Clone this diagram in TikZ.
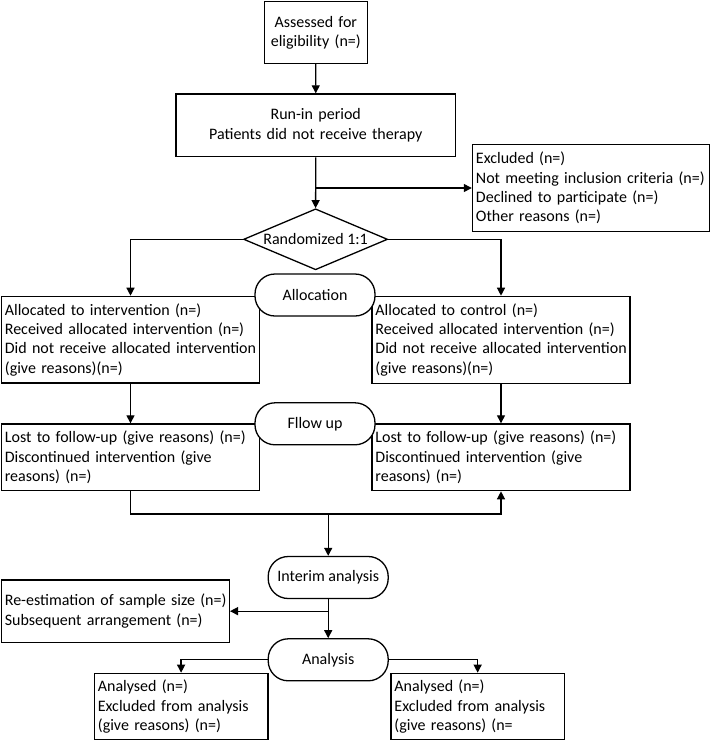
\documentclass[tikz,border=0pt]{standalone}
\usepackage{fontspec}
\setmainfont{Carlito}
\usetikzlibrary{arrows.meta, shapes.geometric, positioning}

\begin{document}
\begin{tikzpicture}[x=1pt, y=-1pt, line width=1.3pt,
        font=\fontsize{16}{19.3}\selectfont,
        box/.style={draw, anchor=north west, inner xsep=3.5pt, inner ysep=0pt},
        pill/.style={draw, fill=white, rounded corners=20pt, minimum width=120pt, minimum height=42pt, inner sep=0pt},
        arr/.style={-{Triangle[length=8pt, width=8pt]}}]
            \useasboundingbox (0,0) rectangle (710,740);
            \node[box, align=center, text width=96.3pt, minimum height=61.7pt] (as) at (263.5,1) {Assessed for\\eligibility (n=)};
            \node[box, align=center, text width=272.8pt, minimum height=62.7pt] (ri) at (175.2,93.3) {Run-in period\\Patients did not receive therapy};
            \node[box, align=left, text width=230.2pt, minimum height=86.7pt] (ex) at (471.8,144) {Excluded (n=)\\\mbox{Not meeting inclusion criteria (n=)}\\Declined to participate (n=)\\Other reasons (n=)};
            \node[draw, diamond, aspect=2.36, minimum width=144pt, minimum height=61pt, inner sep=0pt] (rd) at (315.6,239.3) {Randomized 1:1};
            \node[box, align=left, text width=251.3pt, minimum height=86.6pt] (i1) at (0.7,295.7) {\mbox{Allocated to intervention (n=)}\\\mbox{Received allocated intervention (n=)}\\\mbox{Did not receive allocated intervention}\\(give reasons)(n=)};
            \node[box, align=left, text width=251.1pt, minimum height=87pt] (c1) at (371.3,295.7) {Allocated to control (n=)\\\mbox{Received allocated intervention (n=)}\\\mbox{Did not receive allocated intervention}\\(give reasons)(n=)};
            \node[box, align=left, text width=251.3pt, minimum height=66.7pt] (i2) at (0.7,423.3) {\mbox{Lost to follow-up (give reasons) (n=)}\\\mbox{Discontinued intervention (give}\\reasons) (n=)};
            \node[box, align=left, text width=251.1pt, minimum height=66.7pt] (c2) at (371.3,423.3) {\mbox{Lost to follow-up (give reasons) (n=)}\\\mbox{Discontinued intervention (give}\\reasons) (n=)};
            \node[box, align=left, text width=221pt, minimum height=62.4pt] (rs) at (0.7,579.3) {\mbox{Re-estimation of sample size (n=)}\\\mbox{Subsequent arrangement (n=)}};
            \node[box, align=left, text width=166.5pt, minimum height=66.6pt] (a1) at (93.7,672.7) {Analysed (n=)\\\mbox{Excluded from analysis}\\\mbox{(give reasons) (n=)}};
            \node[box, align=left, text width=166.4pt, minimum height=66.6pt] (a2) at (390.3,672.7) {Analysed (n=)\\\mbox{Excluded from analysis}\\\mbox{(give reasons) (n=}};
            \node[pill] (al) at (315,295) {Allocation};
            \node[pill] (fu) at (315,423.8) {Fllow up};
            \node[pill] (im) at (328.2,577.5) {Interim analysis};
            \node[pill, below=39pt of im] (an) {Analysis};
            \coordinate (jn) at (328.2,514);
            \draw[arr] (as.south) -- (ri.north);
            \draw[arr] (ri.south) -- (rd.north);
            \draw[arr] (ri.south |- ex.west) -- (ex.west);
            \draw[arr] (rd.west) -| (i1.north);
            \draw[arr] (rd.east) -| (c1.north);
            \draw[arr] (i1.south) -- (i2.north);
            \draw[arr] (c1.south) -- (c2.north);
            \draw[arr] (i2.south) |- (jn) -| (c2.south);
            \draw[arr] (jn) -- (im.north);
            \draw[arr] (im.south) -- (an.north);
            \draw[arr] (im.south |- rs.east) -- (rs.east);
            \draw[arr] (an.west) -| (a1.north);
            \draw[arr] (an.east) -| (a2.north);
        \end{tikzpicture}
\end{document}
